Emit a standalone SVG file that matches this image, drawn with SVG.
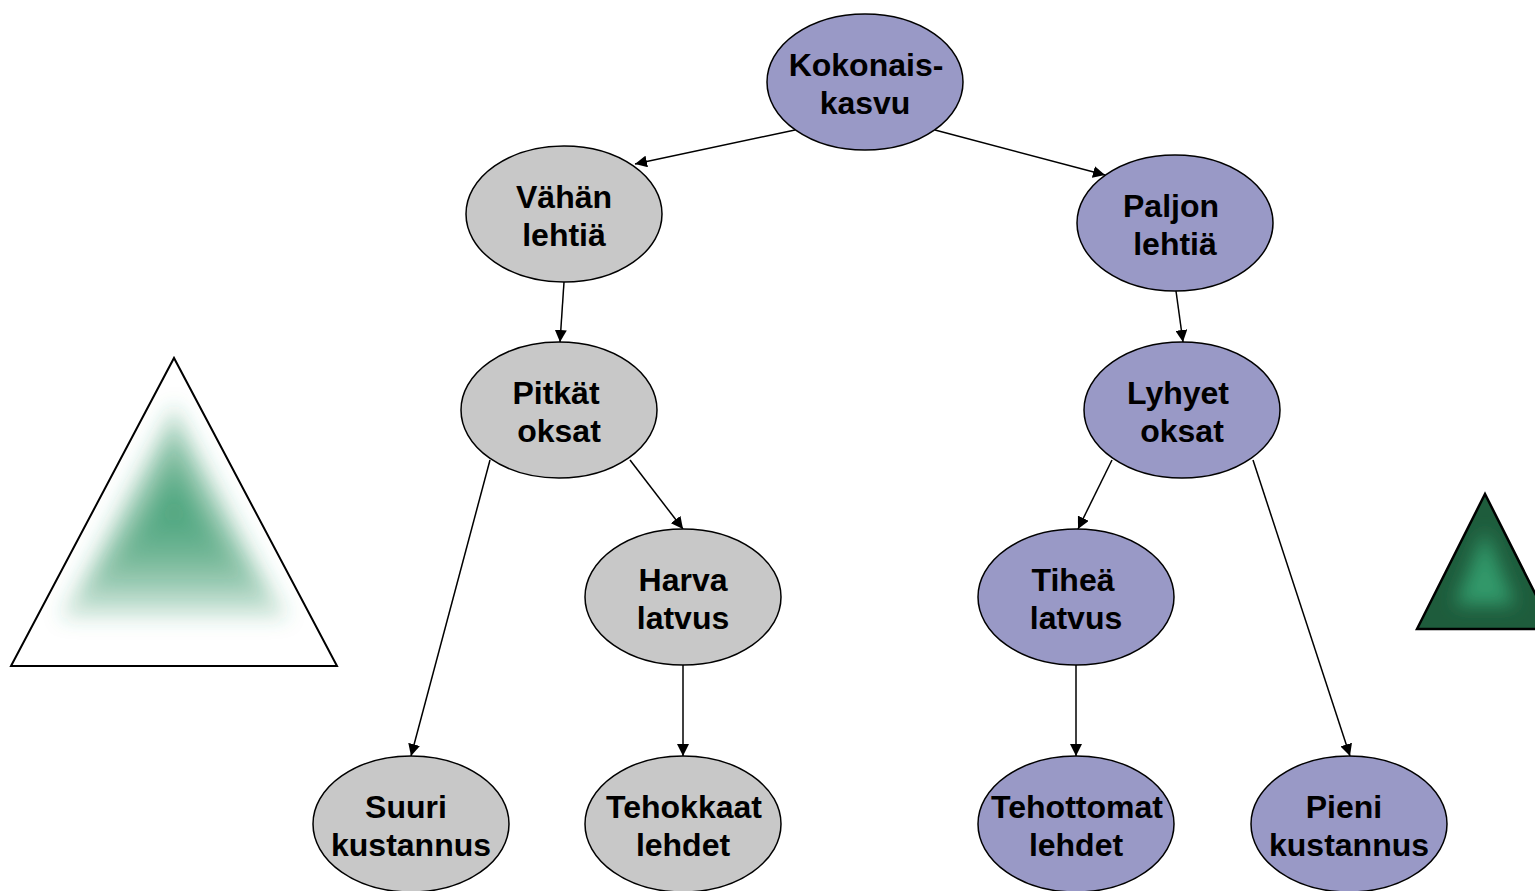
<svg xmlns="http://www.w3.org/2000/svg" width="1535" height="891" viewBox="0 0 1535 891">
<defs>
<style>
.g{fill:#C8C8C8;stroke:#000;stroke-width:1.5}
.p{fill:#9999C6;stroke:#000;stroke-width:1.5}
.t{font-family:"Liberation Sans",Arial,sans-serif;font-weight:bold;font-size:32px;text-anchor:middle;fill:#000}
.c{stroke:#000;stroke-width:1.5;fill:none;marker-end:url(#ah)}
.gr{fill:#2A9464;fill-opacity:0.25}
</style>
<marker id="ah" viewBox="0 0 10 10" refX="10" refY="5" markerWidth="12" markerHeight="12" markerUnits="userSpaceOnUse" orient="auto">
<path d="M0,0 L10,5 L0,10 z" fill="#000"/>
</marker>
<clipPath id="lt"><polygon points="11,666 174,358 337,666"/></clipPath>
<clipPath id="rt"><polygon points="1417,629 1485,494 1553,629"/></clipPath>
<filter id="b1" x="-50%" y="-50%" width="200%" height="200%"><feGaussianBlur stdDeviation="10"/></filter>
<filter id="b2" x="-100%" y="-100%" width="300%" height="300%"><feGaussianBlur stdDeviation="9"/></filter>
</defs>
<g id="triangle-left">
<polygon points="11,666 174,358 337,666" fill="#fff"/>
<g clip-path="url(#lt)">
<g filter="url(#b1)">
<polygon class="gr" points="174,402 60,618 288,618"/>
<polygon class="gr" points="174,420 79,598 269,598"/>
<polygon class="gr" points="174,437 99,579 249,579"/>
<polygon class="gr" points="174,455 119,560 229,560"/>
<polygon class="gr" points="174,473 138,540 210,540"/>
<polygon class="gr" points="174,490 158,521 190,521"/>
</g>
</g>
<polygon points="11,666 174,358 337,666" fill="none" stroke="#000" stroke-width="2"/>
</g>
<g id="triangle-right">
<polygon points="1417,629 1485,494 1553,629" fill="#1E5C3C"/>
<g clip-path="url(#rt)">
<polygon points="1485,530 1455,605 1515,605" fill="#30996A" filter="url(#b2)"/>
</g>
<polygon points="1417,629 1485,494 1553,629" fill="none" stroke="#000" stroke-width="2.5"/>
</g>
<g id="connectors">
<line class="c" x1="795" y1="130" x2="635" y2="164"/>
<line class="c" x1="935" y1="130" x2="1105" y2="175"/>
<line class="c" x1="564" y1="282" x2="560" y2="342"/>
<line class="c" x1="1176" y1="291" x2="1183" y2="342"/>
<line class="c" x1="490" y1="460" x2="411" y2="756"/>
<line class="c" x1="630" y1="460" x2="683" y2="529"/>
<line class="c" x1="1112" y1="460" x2="1078" y2="529"/>
<line class="c" x1="1253" y1="460" x2="1350" y2="756"/>
<line class="c" x1="683" y1="665" x2="683" y2="756"/>
<line class="c" x1="1076" y1="665" x2="1076" y2="756"/>
</g>
<g id="kokonaiskasvu">
<ellipse class="p" cx="865" cy="82" rx="98" ry="68"/>
<text class="t" x="866" y="76">Kokonais-</text>
<text class="t" x="865" y="114">kasvu</text>
</g>
<g id="vahan-lehtia">
<ellipse class="g" cx="564" cy="214" rx="98" ry="68"/>
<text class="t" x="564" y="208">Vähän</text>
<text class="t" x="564" y="246">lehtiä</text>
</g>
<g id="paljon-lehtia">
<ellipse class="p" cx="1175" cy="223" rx="98" ry="68"/>
<text class="t" x="1171" y="217">Paljon</text>
<text class="t" x="1175" y="255">lehtiä</text>
</g>
<g id="pitkat-oksat">
<ellipse class="g" cx="559" cy="410" rx="98" ry="68"/>
<text class="t" x="556" y="404">Pitkät</text>
<text class="t" x="559" y="442">oksat</text>
</g>
<g id="lyhyet-oksat">
<ellipse class="p" cx="1182" cy="410" rx="98" ry="68"/>
<text class="t" x="1178" y="404">Lyhyet</text>
<text class="t" x="1182" y="442">oksat</text>
</g>
<g id="harva-latvus">
<ellipse class="g" cx="683" cy="597" rx="98" ry="68"/>
<text class="t" x="683" y="591">Harva</text>
<text class="t" x="683" y="629">latvus</text>
</g>
<g id="tihea-latvus">
<ellipse class="p" cx="1076" cy="597" rx="98" ry="68"/>
<text class="t" x="1073" y="591">Tiheä</text>
<text class="t" x="1076" y="629">latvus</text>
</g>
<g id="suuri-kustannus">
<ellipse class="g" cx="411" cy="824" rx="98" ry="68"/>
<text class="t" x="406" y="818">Suuri</text>
<text class="t" x="411" y="856">kustannus</text>
</g>
<g id="tehokkaat-lehdet">
<ellipse class="g" cx="683" cy="824" rx="98" ry="68"/>
<text class="t" x="684" y="818">Tehokkaat</text>
<text class="t" x="683" y="856">lehdet</text>
</g>
<g id="tehottomat-lehdet">
<ellipse class="p" cx="1076" cy="824" rx="98" ry="68"/>
<text class="t" x="1077" y="818">Tehottomat</text>
<text class="t" x="1076" y="856">lehdet</text>
</g>
<g id="pieni-kustannus">
<ellipse class="p" cx="1349" cy="824" rx="98" ry="68"/>
<text class="t" x="1344" y="818">Pieni</text>
<text class="t" x="1349" y="856">kustannus</text>
</g>
</svg>
